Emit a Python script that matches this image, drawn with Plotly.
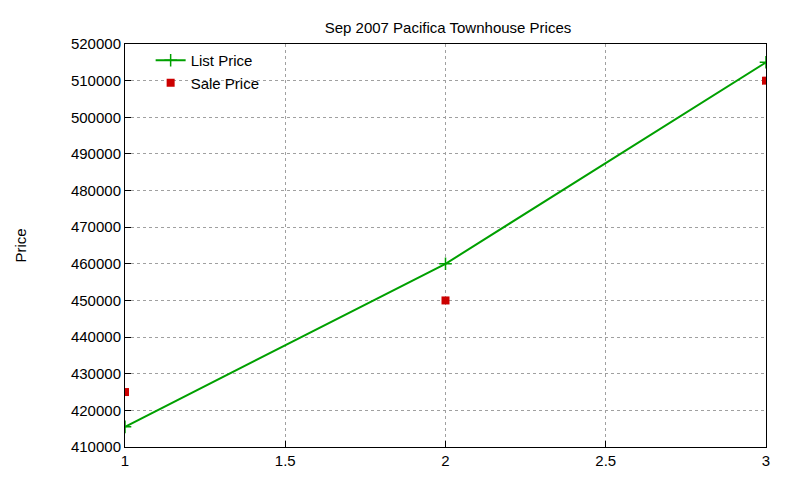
import plotly.graph_objects as go

x_vals = [1, 2, 3]
list_price = [415500, 460000, 515000]
sale_price = [425000, 450000, 510000]
y_ticks = list(range(410000, 520001, 10000))
x_ticks = [1, 1.5, 2, 2.5, 3]

fig = go.Figure()
fig.add_trace(go.Scatter(x=x_vals, y=list_price, mode="lines+markers", name="List Price",
                         line=dict(color="#00a000", width=2),
                         marker=dict(symbol="cross-thin", size=9, line=dict(color="#00a000", width=1.5))))
fig.add_trace(go.Scatter(x=x_vals, y=sale_price, mode="markers", name="Sale Price",
                         marker=dict(symbol="square", size=8, color="#cc0000")))

axis_common = dict(showline=True, linecolor="black", linewidth=1, mirror=True,
                   showgrid=True, gridcolor="#a0a0a0", griddash="dot", gridwidth=1,
                   ticks="inside", ticklen=6, tickcolor="black", zeroline=False,
                   tickfont=dict(size=15, color="black"))
fig.update_xaxes(range=[1, 3], tickvals=x_ticks, ticktext=[str(t) for t in x_ticks], **axis_common)
fig.update_yaxes(range=[410000, 520000], tickvals=y_ticks, ticktext=[str(t) for t in y_ticks],
                 title=dict(text="Price", font=dict(size=15, color="black"), standoff=40), **axis_common)
fig.update_layout(
    width=800, height=480, paper_bgcolor="white", plot_bgcolor="white",
    font=dict(family="Liberation Sans, Arial, sans-serif", color="black"),
    title=dict(text="Sep 2007 Pacifica Townhouse Prices", x=0.55, xanchor="center", y=0.97,
               font=dict(size=15)),
    margin=dict(l=110, r=42, t=36, b=41),
    showlegend=True,
    legend=dict(x=0.04, y=1.0, xanchor="left", yanchor="top", bgcolor="rgba(0,0,0,0)",
                font=dict(size=15), tracegroupgap=0),
)
fig.write_html("out.html")
